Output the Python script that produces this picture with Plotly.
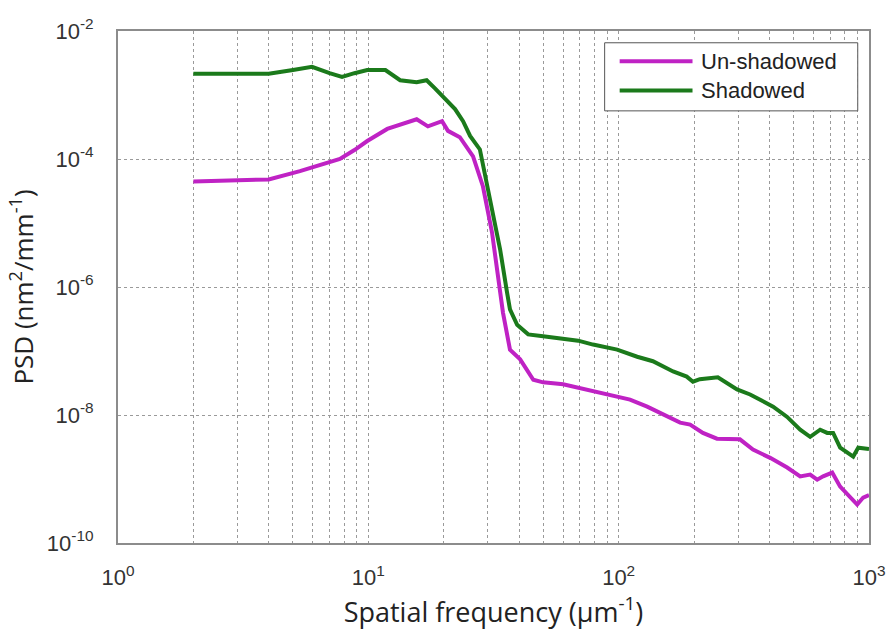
import plotly.graph_objects as go

# Spatial frequency (um^-1) and PSD (nm^2/mm^-1) for both samples
freq_unshadowed = [2, 3, 4, 5.33, 7.7, 8.8, 9.9, 11.9, 13.4, 15.6, 17.3, 19.7, 20.8,
                   23.2, 26.2, 28.7, 31.2, 33.6, 34.5, 36.8, 40.4, 45.6, 49.9, 60, 68.9,
                   79, 92.4, 111, 130, 156, 176, 193, 217, 247, 305, 344, 403, 471, 531,
                   582, 621, 656, 713, 767, 841, 897, 948, 1000]
psd_unshadowed = [4.47e-5, 4.57e-5, 4.79e-5, 6.46e-5, 1.0e-4, 1.38e-4, 1.91e-4, 2.95e-4,
                  3.39e-4, 4.17e-4, 3.24e-4, 3.89e-4, 2.75e-4, 2.19e-4, 1.10e-4, 3.72e-5,
                  7.08e-6, 8.32e-7, 3.98e-7, 1.05e-7, 7.41e-8, 3.55e-8, 3.24e-8, 3.02e-8,
                  2.69e-8, 2.34e-8, 2.09e-8, 1.74e-8, 1.35e-8, 9.33e-9, 7.59e-9, 7.08e-9,
                  5.25e-9, 4.27e-9, 4.17e-9, 2.88e-9, 2.14e-9, 1.51e-9, 1.10e-9, 1.17e-9,
                  9.77e-10, 1.10e-9, 1.26e-9, 7.59e-10, 5.25e-10, 3.98e-10, 5.13e-10,
                  5.62e-10]

freq_shadowed = [2, 3, 4, 5, 5.96, 7, 7.85, 8.8, 9.9, 11.7, 13.4, 15.6, 17.1, 18.5, 19.9,
                 22.2, 23.9, 25.5, 27.9, 30.6, 33.6, 35.8, 36.8, 39.3, 43.5, 49.9, 60,
                 68.9, 79, 98.6, 118.6, 137, 165, 187, 198, 211, 249, 297, 335, 367, 414,
                 471, 531, 582, 638, 681, 719, 767, 865, 906, 1000]
psd_shadowed = [2.14e-3, 2.14e-3, 2.14e-3, 2.45e-3, 2.75e-3, 2.19e-3, 1.91e-3, 2.19e-3,
                2.45e-3, 2.45e-3, 1.70e-3, 1.58e-3, 1.70e-3, 1.26e-3, 9.55e-4, 6.03e-4,
                3.89e-4, 2.29e-4, 1.41e-4, 2.34e-5, 3.89e-6, 8.32e-7, 4.47e-7, 2.57e-7,
                1.82e-7, 1.70e-7, 1.58e-7, 1.45e-7, 1.26e-7, 1.05e-7, 8.13e-8, 6.92e-8,
                4.79e-8, 3.98e-8, 3.31e-8, 3.63e-8, 3.89e-8, 2.51e-8, 2.09e-8, 1.74e-8,
                1.35e-8, 9.33e-9, 5.89e-9, 4.57e-9, 5.89e-9, 5.25e-9, 5.25e-9, 3.09e-9,
                2.24e-9, 3.09e-9, 2.95e-9]

series_names = ["Un-shadowed", "Shadowed"]
series_colors = ["#BF22C4", "#1B7A1B"]

x_tickvals = [1, 10, 100, 1000]
x_ticktext = ["10<sup>0</sup>", "10<sup>1</sup>", "10<sup>2</sup>", "10<sup>3</sup>"]
x_minor = [m * d for d in (1, 10, 100) for m in range(2, 10)]
y_tickvals = [1e-2, 1e-4, 1e-6, 1e-8, 1e-10]
y_ticktext = ["10<sup>-2</sup>", "10<sup>-4</sup>", "10<sup>-6</sup>",
              "10<sup>-8</sup>", "10<sup>-10</sup>"]

fig = go.Figure()
fig.add_trace(go.Scatter(x=freq_unshadowed, y=psd_unshadowed, mode="lines",
                         name=series_names[0],
                         line=dict(color=series_colors[0], width=4)))
fig.add_trace(go.Scatter(x=freq_shadowed, y=psd_shadowed, mode="lines",
                         name=series_names[1],
                         line=dict(color=series_colors[1], width=4)))

tick_font = dict(family="Liberation Sans, Arial, sans-serif", size=22, color="#333333")
title_font = dict(family="Open Sans, sans-serif", size=27, color="#222222")
grid = dict(showgrid=True, gridcolor="#9a9a9a", griddash="dot", gridwidth=1)

fig.update_xaxes(type="log", range=[0, 3], automargin=False,
                 tickvals=x_tickvals, ticktext=x_ticktext, tickfont=tick_font,
                 ticks="", ticklabelstandoff=14, **grid,
                 minor=dict(tickvals=x_minor, ticks="", **grid),
                 showline=True, linecolor="#8c8c8c", linewidth=2, mirror=True,
                 zeroline=False,
                 title=dict(text="Spatial frequency (μm<sup>-1</sup>)", font=title_font,
                            standoff=6))
fig.update_yaxes(type="log", range=[-10, -2], automargin=False,
                 tickvals=y_tickvals, ticktext=y_ticktext, tickfont=tick_font,
                 ticks="", ticklabelstandoff=18, **grid,
                 showline=True, linecolor="#8c8c8c", linewidth=2, mirror=True,
                 zeroline=False,
                 title=dict(text="PSD (nm<sup>2</sup>/mm<sup>-1</sup>)",
                            font=dict(title_font, size=26), standoff=6))

# Legend box drawn in paper coordinates, upper-right corner of the plot
fig.add_shape(type="rect", xref="paper", yref="paper", x0=0.648, x1=0.985,
              y0=0.844, y1=0.977, fillcolor="white", line=dict(color="#555555", width=1))
for i, (name, color) in enumerate(zip(series_names, series_colors)):
    yy = 0.941 - i * 0.057
    fig.add_shape(type="line", xref="paper", yref="paper", x0=0.668, x1=0.765,
                  y0=yy, y1=yy, line=dict(color=color, width=4))
    fig.add_annotation(xref="paper", yref="paper", x=0.774, y=yy, text=name,
                       showarrow=False, xanchor="left", yanchor="middle",
                       font=dict(family="Liberation Sans, Arial, sans-serif", size=22,
                                 color="#222222"))

fig.update_layout(width=889, height=637, showlegend=False,
                  margin=dict(l=118, r=20, t=31, b=94),
                  paper_bgcolor="white", plot_bgcolor="white")

fig.write_html("out.html")
